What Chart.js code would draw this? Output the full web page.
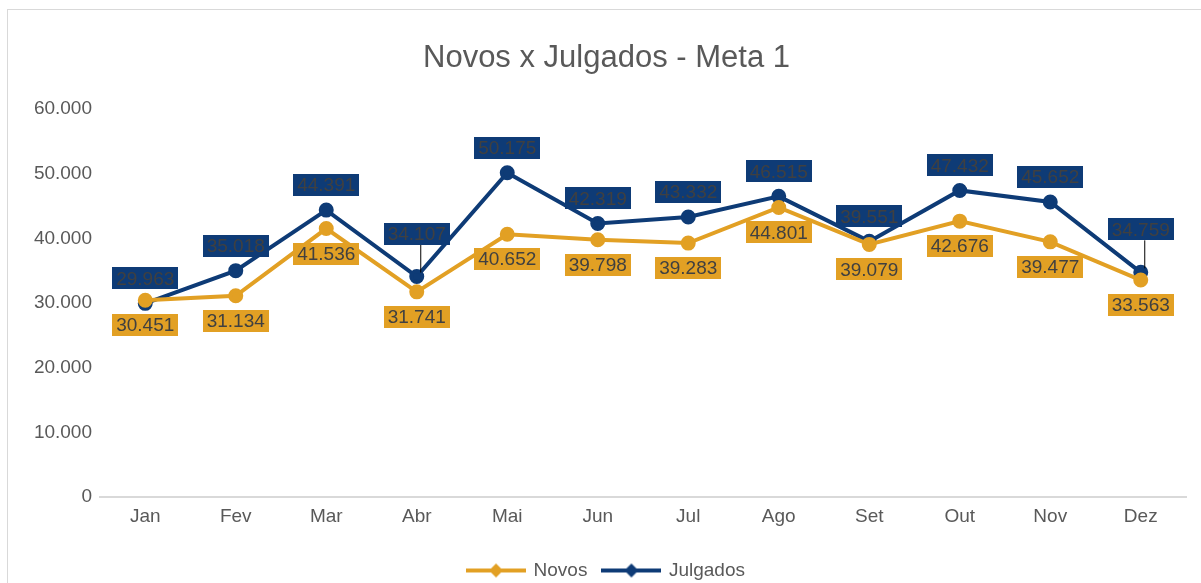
<!DOCTYPE html>
<html>
<head>
<meta charset="utf-8">
<script src="https://cdn.jsdelivr.net/npm/chart.js@4.4.0/dist/chart.umd.min.js"></script>
<style>
  body { margin: 0; background: #fff; }
  #moldura { position: absolute; left: 7px; top: 9px; width: 1220px; height: 600px; border: 1px solid #d9d9d9; }
  #wrap { position: absolute; left: 0; top: 0; width: 1201px; height: 583px; }
</style>
</head>
<body>
<div id="moldura"></div>
<div id="wrap"><canvas id="grafico"></canvas></div>
<script>
// dados
const meses = ['Jan', 'Fev', 'Mar', 'Abr', 'Mai', 'Jun', 'Jul', 'Ago', 'Set', 'Out', 'Nov', 'Dez'];
const novos = [30451, 31134, 41536, 31741, 40652, 39798, 39283, 44801, 39079, 42676, 39477, 33563];
const julgados = [29963, 35018, 44391, 34107, 50175, 42319, 43332, 46515, 39551, 47432, 45652, 34759];

const corNovos = '#E2A024';
const corJulgados = '#0E3B76';
const fonte = '"Liberation Sans", Arial, sans-serif';

function formatar(v) {
  return v.toLocaleString('de-DE');
}

// marcador da legenda: linha com losango
function marcador(cor) {
  let c = document.createElement('canvas');
  c.width = 60; c.height = 16;
  let ctx = c.getContext('2d');
  ctx.strokeStyle = cor;
  ctx.lineWidth = 4;
  ctx.beginPath(); ctx.moveTo(0, 8); ctx.lineTo(60, 8); ctx.stroke();
  ctx.fillStyle = cor;
  ctx.beginPath();
  ctx.moveTo(30, 1); ctx.lineTo(37, 8); ctx.lineTo(30, 15); ctx.lineTo(23, 8);
  ctx.closePath(); ctx.fill();
  return c;
}

// rotulos com caixa colorida (Julgados acima, Novos abaixo)
const rotulos = {
  id: 'rotulos',
  afterDatasetsDraw(chart) {
    let ctx = chart.ctx;
    ctx.save();
    ctx.font = '19px ' + fonte;
    ctx.textAlign = 'center';
    ctx.textBaseline = 'middle';
    chart.data.datasets.forEach((ds, i) => {
      let meta = chart.getDatasetMeta(i);
      meta.data.forEach((pt, j) => {
        let txt = formatar(ds.data[j]);
        let cy;
        let comLinha = false;
        if (i === 1) {
          comLinha = (j === 3 || j === 11);
          cy = pt.y - (comLinha ? 43 : 25);
        } else {
          cy = pt.y + 25;
        }
        let w = ctx.measureText(txt).width + 8;
        let h = 22;
        if (comLinha) {
          ctx.strokeStyle = '#000';
          ctx.lineWidth = 1;
          ctx.beginPath();
          ctx.moveTo(pt.x + 4, cy + h / 2);
          ctx.lineTo(pt.x + 4, pt.y - 4);
          ctx.stroke();
        }
        ctx.fillStyle = ds.borderColor;
        ctx.fillRect(Math.round(pt.x - w / 2), Math.round(cy - h / 2), Math.round(w), h);
        ctx.fillStyle = '#404040';
        ctx.fillText(txt, pt.x, cy + 1);
      });
    });
    ctx.restore();
  }
};

new Chart(document.getElementById('grafico'), {
  type: 'line',
  data: {
    labels: meses,
    datasets: [
      {
        label: 'Novos',
        data: novos,
        borderColor: corNovos,
        backgroundColor: corNovos,
        borderWidth: 4,
        pointStyle: 'circle',
        pointRadius: 5.5,
        pointHoverRadius: 5.5
      },
      {
        label: 'Julgados',
        data: julgados,
        borderColor: corJulgados,
        backgroundColor: corJulgados,
        borderWidth: 4,
        pointStyle: 'circle',
        pointRadius: 5.5,
        pointHoverRadius: 5.5
      }
    ]
  },
  options: {
    responsive: true,
    maintainAspectRatio: false,
    animation: false,
    layout: { padding: { left: 27, right: 15, top: 3, bottom: -7 } },
    plugins: {
      title: {
        display: true,
        text: 'Novos x Julgados - Meta 1',
        color: '#595959',
        font: { size: 31, family: fonte, weight: 'normal' },
        padding: { top: 37, bottom: 32 }
      },
      legend: {
        position: 'bottom',
        labels: {
          usePointStyle: true,
          pointStyleWidth: 56,
          padding: 16,
          color: '#595959',
          font: { size: 19, family: fonte },
          generateLabels(chart) {
            return chart.data.datasets.map((ds, i) => ({
              text: ds.label,
              pointStyle: marcador(ds.borderColor),
              fillStyle: ds.borderColor,
              strokeStyle: ds.borderColor,
              fontColor: '#595959',
              lineWidth: 0,
              datasetIndex: i
            }));
          }
        }
      },
      tooltip: { enabled: false }
    },
    scales: {
      x: {
        offset: true,
        grid: { display: false },
        border: { color: '#d9d9d9', width: 2 },
        afterFit(scale) { scale.height = 48; },
        ticks: {
          color: '#595959',
          padding: 0,
          font: { size: 19, family: fonte }
        }
      },
      y: {
        min: 0,
        max: 60000,
        grid: { display: false },
        border: { display: false },
        afterFit(scale) { scale.width = 73; },
        ticks: {
          stepSize: 10000,
          color: '#595959',
          padding: 0,
          font: { size: 19, family: fonte },
          callback: v => formatar(v)
        }
      }
    }
  },
  plugins: [rotulos]
});
</script>
</body>
</html>
